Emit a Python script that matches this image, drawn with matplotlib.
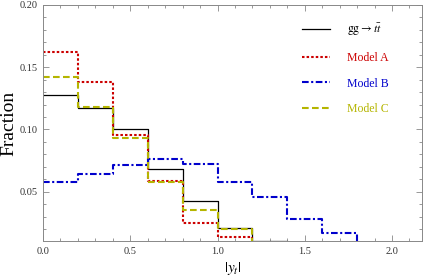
import numpy as np
import matplotlib.pyplot as plt
from matplotlib.lines import Line2D
from matplotlib.ticker import MultipleLocator

plt.rcParams['font.family'] = ['Liberation Serif', 'DejaVu Serif']
plt.rcParams['mathtext.fontset'] = 'stix'

# bin edges in |y_t| (width 0.2)
edges = np.round(np.arange(0, 1.81, 0.2), 2)

# fraction per bin
sm = [0.1277, 0.1174, 0.1005, 0.0679, 0.0422, 0.0210, 0.0105]
model_a = [0.1625, 0.1383, 0.0955, 0.0587, 0.0245, 0.0137]
model_b = [0.0579, 0.0641, 0.0716, 0.0762, 0.0722, 0.0574, 0.0454, 0.0277, 0.0169]
model_c = [0.1418, 0.1182, 0.0933, 0.0579, 0.0357, 0.0199]

labels = [r'$\mathrm{gg} \rightarrow t\bar{t}$', 'Model A', 'Model B', 'Model C']
colors = ['black', '#cc0000', '#0000cc', '#b5b500']
styles = ['-', (0, (1.2, 1.0)), (0, (3.2, 1.2, 1.0, 1.2)), (0, (3.2, 1.6))]
widths = [0.9, 1.5, 1.5, 1.5]

Y0, Y1 = 0.0104, 0.20
X1 = 2.17


def hist_line(ax, vals, color, ls, lw):
    n = len(vals)
    e = edges[:n + 1]
    xs = np.repeat(e, 2)[1:]
    ys = np.append(np.repeat(vals, 2), Y0)
    ax.plot(xs, ys, color=color, linestyle=ls, linewidth=lw)


fig = plt.figure(figsize=(4.26, 2.79), dpi=100)
ax = fig.add_axes([43 / 426, 1 - 241 / 279, (421.7 - 43) / 426, (241 - 5) / 279])

series = [sm, model_a, model_b, model_c]
for vals, c, ls, lw in zip(series, colors, styles, widths):
    hist_line(ax, vals, c, ls, lw)

ax.set_xlim(0, X1)
ax.set_ylim(Y0, Y1)
ax.xaxis.set_major_locator(MultipleLocator(0.5))
ax.xaxis.set_minor_locator(MultipleLocator(0.1))
ax.yaxis.set_major_locator(MultipleLocator(0.05))
ax.yaxis.set_minor_locator(MultipleLocator(0.01))
ax.xaxis.set_major_formatter(lambda v, p: f'{v:.1f}')
ax.yaxis.set_major_formatter(lambda v, p: f'{v:.2f}')
ax.tick_params(which='both', direction='in', top=True, right=True,
               color='#888888', width=0.6, labelsize=7.5, labelcolor='#333333')
ax.tick_params(which='major', length=4, pad=4)
ax.tick_params(which='minor', length=2)
ax.tick_params(axis='x', which='both', labeltop=False)
ax.tick_params(axis='y', which='both', labelright=False)
for s in ax.spines.values():
    s.set_color('#888888')
    s.set_linewidth(0.7)

ax.set_ylabel('Fraction', fontsize=14)
ax.yaxis.set_label_coords(-0.068, 0.5)
ax.set_xlabel(r'$|y_t|$', fontsize=11)
ax.xaxis.set_label_coords(0.5, -0.08)

handles = [Line2D([], [], color=c, linestyle=ls, linewidth=lw)
           for c, ls, lw in zip(colors, styles, widths)]
ax.legend(handles, labels, loc='upper left', bbox_to_anchor=(0.655, 0.975),
          frameon=False, fontsize=8.5, handlelength=2.4, handletextpad=1.4,
          labelspacing=1.18, labelcolor=colors)

fig.savefig('out.png', dpi=100)
